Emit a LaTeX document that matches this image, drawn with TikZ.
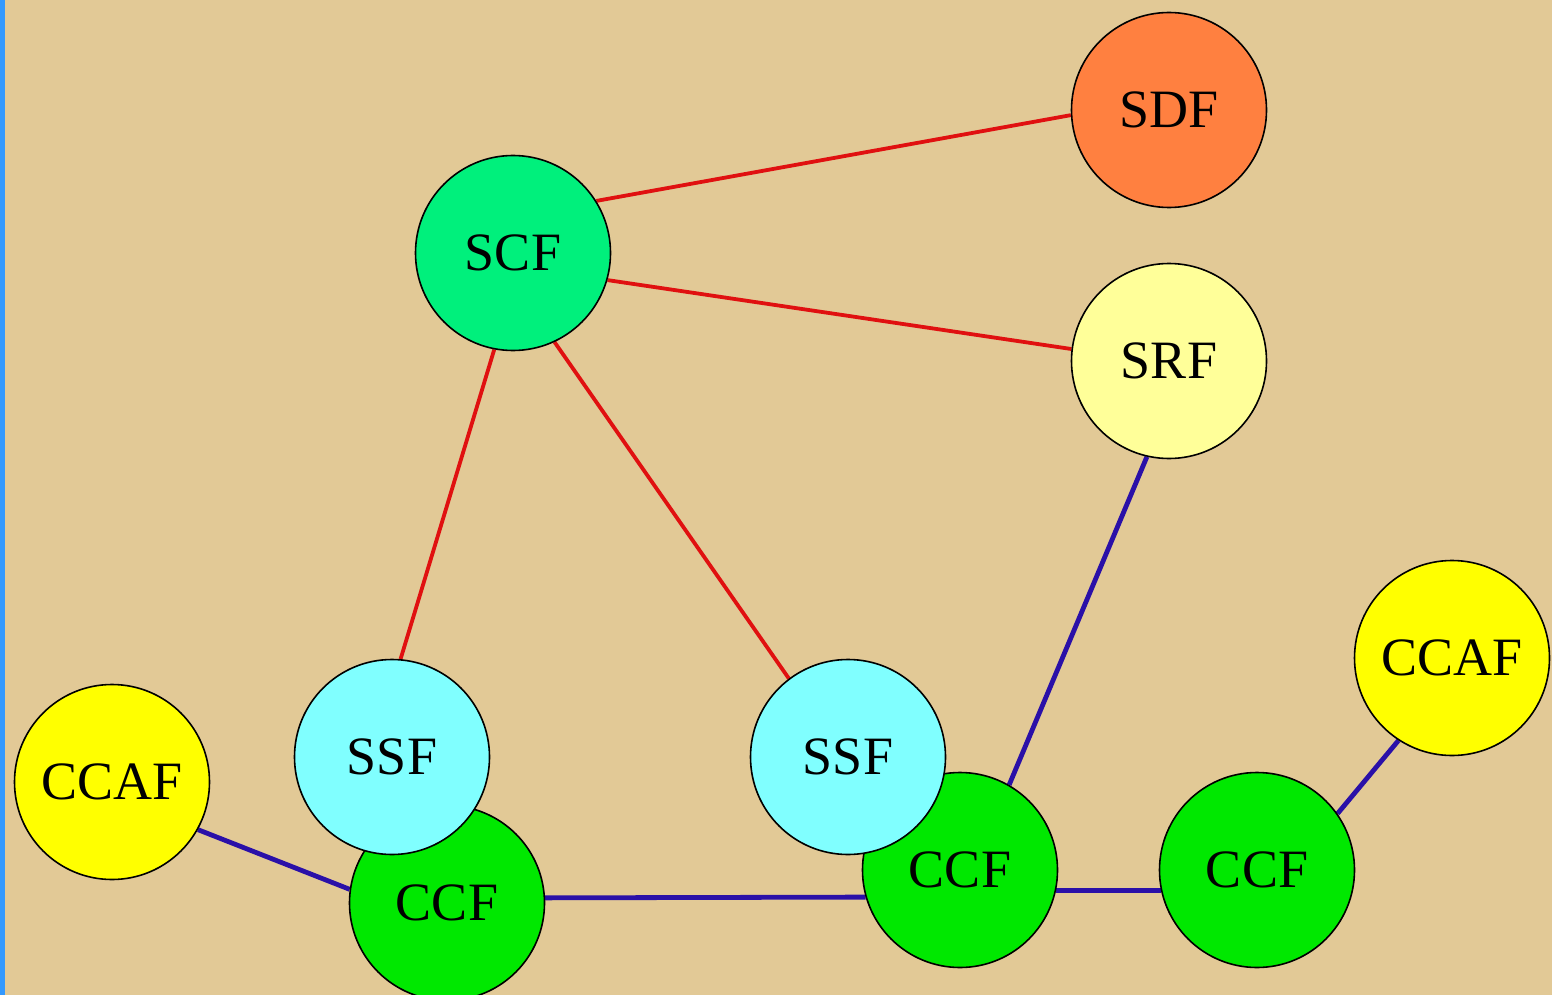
\documentclass[tikz,border=0pt]{standalone}
\usepackage{fontspec}
\setmainfont{Liberation Serif}
\definecolor{bg}{HTML}{E2C996}
\definecolor{edgeblue}{HTML}{3399FF}
\definecolor{redline}{HTML}{E01010}
\definecolor{blueline}{HTML}{2A10A8}
\definecolor{sdfc}{HTML}{FF8040}
\definecolor{scfc}{HTML}{00F07C}
\definecolor{srfc}{HTML}{FFFF99}
\definecolor{ssfc}{HTML}{80FFFF}
\definecolor{ccafc}{HTML}{FFFF00}
\definecolor{ccfc}{HTML}{00E800}
\pgfdeclarelayer{bglayer}
\pgfdeclarelayer{edges}
\pgfsetlayers{bglayer,edges,main}
\begin{document}
\begin{tikzpicture}[x=1pt,y=-1pt,
  fn/.style={circle,draw=black,line width=1.6pt,minimum size=195pt,inner sep=0pt,
    font=\fontsize{54}{62}\selectfont},
  redl/.style={draw=redline,line width=3.8pt},
  bluel/.style={draw=blueline,line width=4.8pt}]
\begin{pgfonlayer}{bglayer}
\fill[bg] (0,0) rectangle (1552,995);
\fill[edgeblue] (0,0) rectangle (5,995);
\end{pgfonlayer}
\useasboundingbox (0,0) rectangle (1552,995);
% nodes: CCF first, SSF on top of them
\node[fn,fill=ccfc] (CCFa) at (447,903) {CCF};
\node[fn,fill=ccfc] (CCFb) at (960,870) {CCF};
\node[fn,fill=ccfc] (CCFc) at (1257,870) {CCF};
\node[fn,fill=ssfc] (SSFa) at (392,757) {SSF};
\node[fn,fill=ssfc] (SSFb) at (848,757) {SSF};
\node[fn,fill=sdfc] (SDF) at (1169,110) {SDF};
\node[fn,fill=scfc] (SCF) at (513,253) {SCF};
\node[fn,fill=srfc] (SRF) at (1169,361) {SRF};
\node[fn,fill=ccafc] (CCAFa) at (112,782) {CCAF};
\node[fn,fill=ccafc] (CCAFb) at (1452,658) {CCAF};
% connectors behind nodes
\begin{pgfonlayer}{edges}
\draw[redl] (SCF.32) -- (SDF.183);
\draw[redl] (SCF.-16) -- (SRF.173);
\draw[redl] (SCF.-101) -- (SSFa.85);
\draw[redl] (SCF.-65) -- (SSFb.127);
\draw[bluel] (SRF.-103) -- (CCFb.60);
\draw[bluel] (CCAFa.-29) -- (CCFa.172);
\draw[bluel] (CCFa.3.5) -- (CCFb.196);
\draw[bluel] (CCFb.-12) -- (CCFc.192);
\draw[bluel] (CCFc.35) -- (CCAFb.-123);
\end{pgfonlayer}
\end{tikzpicture}
\end{document}
